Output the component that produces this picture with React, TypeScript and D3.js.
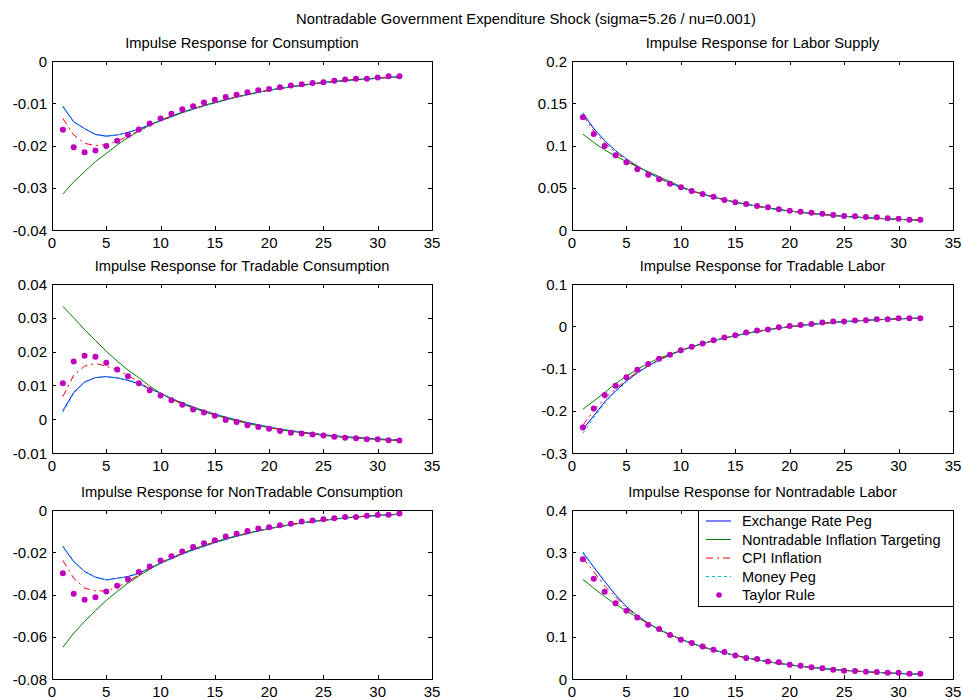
import React, { useEffect, useRef } from 'react';
import * as d3 from 'd3';

const periods = [1, 2, 3, 4, 5, 6, 7, 8, 9, 10, 11, 12, 13, 14, 15, 16, 17, 18, 19, 20, 21, 22, 23, 24, 25, 26, 27, 28, 29, 30, 31, 32];
const xTicks = [0, 5, 10, 15, 20, 25, 30, 35];

const policyNames = ['Exchange Rate Peg', 'Nontradable Inflation Targeting', 'CPI Inflation', 'Money Peg', 'Taylor Rule'];

// Consumption
const consERP = [-0.0108, -0.0144, -0.0160, -0.0174, -0.0178, -0.0175, -0.0169, -0.0161, -0.0151, -0.0141, -0.0132, -0.0122, -0.0114, -0.0106, -0.0099, -0.0092, -0.0085, -0.0080, -0.0074, -0.0069, -0.0065, -0.0061, -0.0058, -0.0054, -0.0051, -0.0049, -0.0047, -0.0044, -0.0043, -0.0041, -0.0039, -0.0038];
const consNIT = [-0.0315, -0.0286, -0.0262, -0.0238, -0.0219, -0.0199, -0.0181, -0.0166, -0.0152, -0.0140, -0.0130, -0.0121, -0.0113, -0.0105, -0.0098, -0.0091, -0.0085, -0.0079, -0.0074, -0.0069, -0.0065, -0.0061, -0.0057, -0.0054, -0.0051, -0.0048, -0.0046, -0.0044, -0.0042, -0.0040, -0.0039, -0.0037];
const consCPI = [-0.0136, -0.0175, -0.0195, -0.0200, -0.0198, -0.0190, -0.0178, -0.0165, -0.0153, -0.0141, -0.0131, -0.0122, -0.0113, -0.0106, -0.0098, -0.0092, -0.0085, -0.0079, -0.0074, -0.0069, -0.0065, -0.0061, -0.0057, -0.0054, -0.0051, -0.0049, -0.0046, -0.0044, -0.0042, -0.0040, -0.0039, -0.0037];
const consMP = [-0.0106, -0.0143, -0.0160, -0.0173, -0.0177, -0.0175, -0.0170, -0.0162, -0.0152, -0.0142, -0.0133, -0.0123, -0.0114, -0.0106, -0.0099, -0.0092, -0.0086, -0.0080, -0.0074, -0.0070, -0.0065, -0.0061, -0.0058, -0.0054, -0.0052, -0.0049, -0.0047, -0.0045, -0.0043, -0.0041, -0.0039, -0.0038];
const consTR = [-0.0163, -0.0204, -0.0216, -0.0212, -0.0201, -0.0189, -0.0175, -0.0162, -0.0148, -0.0136, -0.0125, -0.0114, -0.0107, -0.0098, -0.0092, -0.0085, -0.0080, -0.0074, -0.0069, -0.0066, -0.0062, -0.0058, -0.0055, -0.0052, -0.0050, -0.0047, -0.0044, -0.0042, -0.0042, -0.0039, -0.0036, -0.0036];

// Labor supply
const laborERP = [0.1380, 0.1200, 0.1057, 0.0939, 0.0840, 0.0757, 0.0681, 0.0613, 0.0555, 0.0505, 0.0462, 0.0424, 0.0390, 0.0358, 0.0330, 0.0305, 0.0282, 0.0260, 0.0242, 0.0225, 0.0210, 0.0196, 0.0184, 0.0172, 0.0162, 0.0153, 0.0145, 0.0138, 0.0132, 0.0126, 0.0121, 0.0117];
const laborNIT = [0.1136, 0.1034, 0.0947, 0.0876, 0.0809, 0.0750, 0.0690, 0.0632, 0.0572, 0.0515, 0.0466, 0.0425, 0.0390, 0.0358, 0.0330, 0.0304, 0.0281, 0.0260, 0.0241, 0.0224, 0.0209, 0.0196, 0.0183, 0.0172, 0.0162, 0.0153, 0.0145, 0.0138, 0.0132, 0.0126, 0.0121, 0.0117];
const laborCPI = [0.1360, 0.1170, 0.1030, 0.0920, 0.0830, 0.0750, 0.0677, 0.0611, 0.0554, 0.0505, 0.0462, 0.0424, 0.0390, 0.0358, 0.0330, 0.0305, 0.0282, 0.0260, 0.0242, 0.0225, 0.0210, 0.0196, 0.0184, 0.0172, 0.0162, 0.0153, 0.0145, 0.0138, 0.0132, 0.0126, 0.0121, 0.0117];
const laborMP = [0.1390, 0.1210, 0.1060, 0.0942, 0.0842, 0.0758, 0.0682, 0.0614, 0.0556, 0.0506, 0.0463, 0.0425, 0.0391, 0.0359, 0.0331, 0.0306, 0.0283, 0.0261, 0.0243, 0.0226, 0.0211, 0.0197, 0.0185, 0.0173, 0.0163, 0.0154, 0.0146, 0.0139, 0.0133, 0.0127, 0.0122, 0.0118];
const laborTR = [0.1333, 0.1136, 0.0994, 0.0884, 0.0801, 0.0718, 0.0655, 0.0600, 0.0548, 0.0505, 0.0462, 0.0426, 0.0394, 0.0355, 0.0327, 0.0308, 0.0284, 0.0268, 0.0245, 0.0229, 0.0217, 0.0205, 0.0193, 0.0178, 0.0166, 0.0162, 0.0154, 0.0150, 0.0138, 0.0134, 0.0122, 0.0122];

// Tradable consumption
const tConsERP = [0.0025, 0.0079, 0.0110, 0.0123, 0.0126, 0.0122, 0.0115, 0.0105, 0.0090, 0.0077, 0.0061, 0.0048, 0.0036, 0.0025, 0.0015, 0.0006, -0.0002, -0.0010, -0.0017, -0.0023, -0.0029, -0.0034, -0.0038, -0.0042, -0.0046, -0.0049, -0.0052, -0.0054, -0.0056, -0.0058, -0.0060, -0.0061];
const tConsNIT = [0.0334, 0.0300, 0.0265, 0.0233, 0.0201, 0.0172, 0.0145, 0.0123, 0.0098, 0.0077, 0.0059, 0.0045, 0.0033, 0.0022, 0.0012, 0.0003, -0.0005, -0.0013, -0.0019, -0.0025, -0.0031, -0.0036, -0.0040, -0.0044, -0.0048, -0.0051, -0.0054, -0.0056, -0.0058, -0.0060, -0.0062, -0.0063];
const tConsCPI = [0.0067, 0.0130, 0.0157, 0.0165, 0.0157, 0.0145, 0.0130, 0.0110, 0.0090, 0.0076, 0.0060, 0.0047, 0.0035, 0.0024, 0.0014, 0.0005, -0.0003, -0.0011, -0.0018, -0.0024, -0.0030, -0.0035, -0.0039, -0.0043, -0.0047, -0.0050, -0.0053, -0.0055, -0.0057, -0.0059, -0.0061, -0.0062];
const tConsMP = [0.0020, 0.0076, 0.0109, 0.0123, 0.0126, 0.0123, 0.0116, 0.0106, 0.0091, 0.0078, 0.0062, 0.0049, 0.0037, 0.0026, 0.0016, 0.0007, -0.0001, -0.0009, -0.0016, -0.0022, -0.0028, -0.0033, -0.0038, -0.0042, -0.0046, -0.0049, -0.0052, -0.0054, -0.0056, -0.0058, -0.0060, -0.0061];
const tConsTR = [0.0106, 0.0171, 0.0188, 0.0185, 0.0167, 0.0147, 0.0127, 0.0106, 0.0086, 0.0070, 0.0056, 0.0043, 0.0029, 0.0020, 0.0010, -0.0002, -0.0008, -0.0018, -0.0023, -0.0028, -0.0035, -0.0040, -0.0042, -0.0045, -0.0048, -0.0052, -0.0055, -0.0056, -0.0059, -0.0059, -0.0062, -0.0063];

// Tradable labor
const tLabERP = [-0.2436, -0.2120, -0.1790, -0.1530, -0.1297, -0.1100, -0.0940, -0.0800, -0.0680, -0.0578, -0.0490, -0.0412, -0.0342, -0.0280, -0.0224, -0.0172, -0.0125, -0.0083, -0.0045, -0.0012, 0.0018, 0.0045, 0.0068, 0.0090, 0.0108, 0.0125, 0.0140, 0.0153, 0.0165, 0.0175, 0.0184, 0.0192];
const tLabNIT = [-0.1965, -0.1768, -0.1570, -0.1360, -0.1180, -0.1020, -0.0880, -0.0755, -0.0665, -0.0570, -0.0486, -0.0409, -0.0340, -0.0278, -0.0222, -0.0171, -0.0124, -0.0082, -0.0044, -0.0011, 0.0019, 0.0046, 0.0069, 0.0091, 0.0109, 0.0126, 0.0141, 0.0154, 0.0166, 0.0176, 0.0185, 0.0193];
const tLabCPI = [-0.2340, -0.2000, -0.1710, -0.1480, -0.1270, -0.1080, -0.0930, -0.0792, -0.0676, -0.0575, -0.0488, -0.0410, -0.0340, -0.0279, -0.0223, -0.0171, -0.0124, -0.0082, -0.0044, -0.0011, 0.0019, 0.0046, 0.0069, 0.0091, 0.0109, 0.0126, 0.0141, 0.0154, 0.0166, 0.0176, 0.0185, 0.0193];
const tLabMP = [-0.2530, -0.2160, -0.1820, -0.1550, -0.1320, -0.1115, -0.0950, -0.0806, -0.0684, -0.0580, -0.0491, -0.0413, -0.0343, -0.0281, -0.0225, -0.0173, -0.0126, -0.0084, -0.0046, -0.0013, 0.0017, 0.0044, 0.0068, 0.0090, 0.0108, 0.0125, 0.0140, 0.0153, 0.0165, 0.0175, 0.0184, 0.0192];
const tLabTR = [-0.2397, -0.1949, -0.1627, -0.1407, -0.1210, -0.1030, -0.0896, -0.0770, -0.0676, -0.0566, -0.0487, -0.0409, -0.0330, -0.0267, -0.0212, -0.0149, -0.0102, -0.0079, -0.0024, 0.0008, 0.0031, 0.0055, 0.0086, 0.0110, 0.0110, 0.0134, 0.0141, 0.0165, 0.0165, 0.0190, 0.0190, 0.0190];

// Nontradable consumption
const nConsERP = [-0.0173, -0.0244, -0.0291, -0.0318, -0.0331, -0.0323, -0.0315, -0.0299, -0.0276, -0.0252, -0.0230, -0.0208, -0.0189, -0.0172, -0.0154, -0.0139, -0.0124, -0.0112, -0.0099, -0.0088, -0.0079, -0.0069, -0.0061, -0.0055, -0.0049, -0.0043, -0.0038, -0.0033, -0.0030, -0.0027, -0.0024, -0.0020];
const nConsNIT = [-0.0650, -0.0583, -0.0528, -0.0476, -0.0428, -0.0386, -0.0346, -0.0312, -0.0280, -0.0252, -0.0227, -0.0205, -0.0185, -0.0167, -0.0151, -0.0136, -0.0122, -0.0110, -0.0098, -0.0088, -0.0078, -0.0069, -0.0061, -0.0054, -0.0048, -0.0042, -0.0037, -0.0032, -0.0028, -0.0025, -0.0022, -0.0019];
const nConsCPI = [-0.0239, -0.0323, -0.0370, -0.0383, -0.0383, -0.0365, -0.0339, -0.0307, -0.0276, -0.0249, -0.0226, -0.0205, -0.0186, -0.0169, -0.0152, -0.0137, -0.0123, -0.0110, -0.0098, -0.0087, -0.0078, -0.0069, -0.0061, -0.0054, -0.0048, -0.0043, -0.0038, -0.0033, -0.0029, -0.0026, -0.0023, -0.0020];
const nConsMP = [-0.0170, -0.0242, -0.0290, -0.0318, -0.0331, -0.0324, -0.0316, -0.0300, -0.0277, -0.0253, -0.0231, -0.0209, -0.0190, -0.0172, -0.0155, -0.0140, -0.0125, -0.0112, -0.0100, -0.0089, -0.0079, -0.0070, -0.0062, -0.0055, -0.0049, -0.0044, -0.0039, -0.0034, -0.0030, -0.0027, -0.0024, -0.0021];
const nConsTR = [-0.0299, -0.0397, -0.0425, -0.0413, -0.0386, -0.0359, -0.0328, -0.0293, -0.0268, -0.0239, -0.0219, -0.0197, -0.0175, -0.0157, -0.0143, -0.0126, -0.0113, -0.0099, -0.0087, -0.0082, -0.0072, -0.0065, -0.0055, -0.0050, -0.0044, -0.0039, -0.0033, -0.0033, -0.0027, -0.0024, -0.0022, -0.0017];

// Nontradable labor
const nLabERP = [0.2990, 0.2646, 0.2307, 0.1990, 0.1717, 0.1496, 0.1323, 0.1165, 0.1050, 0.0940, 0.0845, 0.0760, 0.0685, 0.0620, 0.0558, 0.0503, 0.0455, 0.0410, 0.0370, 0.0335, 0.0303, 0.0275, 0.0250, 0.0227, 0.0206, 0.0188, 0.0171, 0.0156, 0.0143, 0.0131, 0.0120, 0.0110];
const nLabNIT = [0.2360, 0.2150, 0.1950, 0.1770, 0.1610, 0.1457, 0.1310, 0.1180, 0.1050, 0.0940, 0.0845, 0.0760, 0.0685, 0.0620, 0.0558, 0.0503, 0.0455, 0.0410, 0.0370, 0.0335, 0.0303, 0.0275, 0.0250, 0.0227, 0.0206, 0.0188, 0.0171, 0.0156, 0.0143, 0.0131, 0.0120, 0.0110];
const nLabCPI = [0.2860, 0.2540, 0.2200, 0.1940, 0.1680, 0.1480, 0.1310, 0.1160, 0.1048, 0.0938, 0.0843, 0.0759, 0.0684, 0.0619, 0.0557, 0.0502, 0.0454, 0.0409, 0.0369, 0.0334, 0.0302, 0.0274, 0.0249, 0.0226, 0.0205, 0.0187, 0.0170, 0.0155, 0.0142, 0.0130, 0.0119, 0.0109];
const nLabMP = [0.3010, 0.2660, 0.2320, 0.2000, 0.1720, 0.1500, 0.1325, 0.1168, 0.1052, 0.0942, 0.0847, 0.0762, 0.0687, 0.0621, 0.0559, 0.0504, 0.0456, 0.0411, 0.0371, 0.0336, 0.0304, 0.0276, 0.0251, 0.0228, 0.0207, 0.0189, 0.0172, 0.0157, 0.0144, 0.0132, 0.0121, 0.0111];
const nLabTR = [0.2835, 0.2370, 0.2063, 0.1795, 0.1614, 0.1457, 0.1283, 0.1181, 0.1039, 0.0929, 0.0850, 0.0772, 0.0693, 0.0638, 0.0559, 0.0496, 0.0472, 0.0417, 0.0394, 0.0339, 0.0315, 0.0276, 0.0252, 0.0220, 0.0197, 0.0189, 0.0173, 0.0165, 0.0150, 0.0150, 0.0126, 0.0126];

const panels = [
  { title: 'Impulse Response for Consumption', yTicks: [-0.04, -0.03, -0.02, -0.01, 0], series: [consERP, consNIT, consCPI, consMP, consTR] },
  { title: 'Impulse Response for Labor Supply', yTicks: [0, 0.05, 0.1, 0.15, 0.2], series: [laborERP, laborNIT, laborCPI, laborMP, laborTR] },
  { title: 'Impulse Response for Tradable Consumption', yTicks: [-0.01, 0, 0.01, 0.02, 0.03, 0.04], series: [tConsERP, tConsNIT, tConsCPI, tConsMP, tConsTR] },
  { title: 'Impulse Response for Tradable Labor', yTicks: [-0.3, -0.2, -0.1, 0, 0.1], series: [tLabERP, tLabNIT, tLabCPI, tLabMP, tLabTR] },
  { title: 'Impulse Response for NonTradable Consumption', yTicks: [-0.08, -0.06, -0.04, -0.02, 0], series: [nConsERP, nConsNIT, nConsCPI, nConsMP, nConsTR] },
  { title: 'Impulse Response for Nontradable Labor', yTicks: [0, 0.1, 0.2, 0.3, 0.4], series: [nLabERP, nLabNIT, nLabCPI, nLabMP, nLabTR] },
];

const colors = ['#0000ff', '#008000', '#ff0000', '#00bfbf', '#bf00bf'];
const dashes = [null, null, '7,4,2,4', '3,3', null];

const colLeft = [52, 572];
const colWidth = [380, 381];
const rowTop = [61, 284, 510];
const rowHeight = 169;
const font = "'Liberation Sans', Arial, Helvetica, sans-serif";

export default function App() {
  const ref = useRef(null);

  useEffect(() => {
    const svg = d3.select(ref.current);
    svg.selectAll('*').remove();

    svg.append('rect').attr('width', 964).attr('height', 700).attr('fill', '#fff');

    svg.append('text')
      .attr('x', 526)
      .attr('y', 24)
      .attr('text-anchor', 'middle')
      .style('font-size', '14.8px')
      .text('Nontradable Government Expenditure Shock (sigma=5.26 / nu=0.001)');

    panels.forEach((p, i) => {
      const left = colLeft[i % 2];
      const width = colWidth[i % 2];
      const top = rowTop[Math.floor(i / 2)];
      const bottom = top + rowHeight;

      const x = d3.scaleLinear().domain([0, 35]).range([left, left + width]);
      const y = d3.scaleLinear().domain([p.yTicks[0], p.yTicks[p.yTicks.length - 1]]).range([bottom, top]);

      const g = svg.append('g');

      g.append('text')
        .attr('x', left + width / 2)
        .attr('y', top - 13)
        .attr('text-anchor', 'middle')
        .style('font-size', '14.7px')
        .text(p.title);

      // axes box
      g.append('rect')
        .attr('x', left + 0.5)
        .attr('y', top + 0.5)
        .attr('width', width)
        .attr('height', rowHeight)
        .attr('fill', 'none')
        .attr('stroke', '#000');

      xTicks.forEach(t => {
        const px = Math.round(x(t)) + 0.5;
        g.append('line').attr('x1', px).attr('x2', px).attr('y1', bottom).attr('y2', bottom - 4).attr('stroke', '#000');
        g.append('line').attr('x1', px).attr('x2', px).attr('y1', top).attr('y2', top + 4).attr('stroke', '#000');
        g.append('text')
          .attr('x', x(t))
          .attr('y', bottom + 18)
          .attr('text-anchor', 'middle')
          .style('font-size', '15px')
          .text(String(t));
      });

      p.yTicks.forEach(t => {
        const py = Math.round(y(t)) + 0.5;
        g.append('line').attr('x1', left).attr('x2', left + 4).attr('y1', py).attr('y2', py).attr('stroke', '#000');
        g.append('line').attr('x1', left + width).attr('x2', left + width - 4).attr('y1', py).attr('y2', py).attr('stroke', '#000');
        g.append('text')
          .attr('x', left - 5)
          .attr('y', y(t) + 5.5)
          .attr('text-anchor', 'end')
          .style('font-size', '15px')
          .text(String(+t.toFixed(4)));
      });

      const line = d3.line<number>()
        .x((d, k) => x(periods[k]))
        .y(d => y(d));

      p.series.slice(0, 4).forEach((s, k) => {
        g.append('path')
          .datum(s)
          .attr('d', line)
          .attr('fill', 'none')
          .attr('stroke', colors[k])
          .attr('stroke-width', 1)
          .attr('stroke-dasharray', dashes[k]);
      });

      g.selectAll('.dot')
        .data(p.series[4])
        .enter()
        .append('circle')
        .attr('cx', (d, k) => x(periods[k]))
        .attr('cy', d => y(d))
        .attr('r', 3)
        .attr('fill', colors[4]);
    });

    // legend
    const lg = svg.append('g');
    lg.append('rect')
      .attr('x', 698.5)
      .attr('y', 510.5)
      .attr('width', 255)
      .attr('height', 96)
      .attr('fill', '#fff')
      .attr('stroke', '#000');

    policyNames.forEach((name, k) => {
      const ly = 521 + k * 18.5;
      if (k < 4) {
        lg.append('line')
          .attr('x1', 706).attr('x2', 731)
          .attr('y1', ly).attr('y2', ly)
          .attr('stroke', colors[k])
          .attr('stroke-dasharray', dashes[k]);
      } else {
        lg.append('circle').attr('cx', 719).attr('cy', ly).attr('r', 2.8).attr('fill', colors[k]);
      }
      lg.append('text')
        .attr('x', 742)
        .attr('y', ly + 5)
        .style('font-size', '14.6px')
        .text(name);
    });
  }, []);

  return (
    <svg
      ref={ref}
      width={964}
      height={700}
      style={{ position: 'absolute', left: 0, top: 0, fontFamily: font }}
    />
  );
}
